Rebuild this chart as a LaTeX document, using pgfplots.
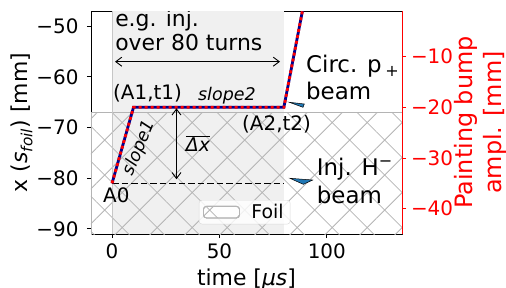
\documentclass[border=0pt]{standalone}
\usepackage{pgfplots}
\pgfplotsset{compat=1.18}
\usepackage{fontspec}
\setmainfont{DejaVu Sans}
\usetikzlibrary{patterns.meta,arrows.meta}
\definecolor{lineblue}{RGB}{0,0,140}
\definecolor{wedgeblue}{RGB}{31,119,180}
\definecolor{hatchgray}{RGB}{180,180,180}
\definecolor{spangray}{RGB}{240,240,240}
\newcommand\fs[2]{\fontsize{#1}{#2}\selectfont}
\tikzset{
  hatchA/.style={pattern={Lines[angle=45,distance=24.75bp,yshift=8.27bp,line width=0.8bp]},pattern color=hatchgray},
  hatchB/.style={pattern={Lines[angle=-45,distance=24.75bp,yshift=7.57bp,line width=0.8bp]},pattern color=hatchgray},
}
\begin{document}
\begin{tikzpicture}
\begin{axis}[name=ax, width=311bp, height=223bp, scale only axis,
  xmin=-9.8, xmax=135, ymin=-91, ymax=-47,
  xtick={0,50,100}, xticklabels={0,50,100},
  ytick={-90,-80,-70,-60,-50}, yticklabels={−90,−80,−70,−60,−50},
  xtick pos=bottom, ytick pos=left, tick align=outside, major tick length=4bp,
  tick style={black, line width=0.9bp},
  axis line style={line width=0.9bp},
  ticklabel style={font=\fs{20}{23}},
  yticklabel style={xshift=-5bp},
  xticklabel style={yshift=-2bp},
  every axis x label/.style={at={(axis description cs:0.5,-0.231)}, anchor=base, font=\fs{22}{26}},
  every axis y label/.style={at={(axis description cs:-0.222,0.5)}, anchor=center, rotate=90, font=\fs{22}{26}},
  xlabel={time [\textit{μs}]},
  ylabel={x (\textit{s}\textsubscript{\textit{foil}}) [mm]},
  legend style={at={(axis description cs:0.494,0.0435)}, anchor=south, draw=black!15, rounded corners=3bp,
    fill=white, fill opacity=0.8, text opacity=1, font=\fs{19}{23}, inner xsep=4bp, inner ysep=1.5bp,
    nodes={inner sep=2.5bp},
    /tikz/every odd column/.append style={column sep=9bp}},
  legend cell align=left,
]
% shaded injection window
\addplot[fill=spangray, draw=none, forget plot] coordinates {(0,-91) (80,-91) (80,-47) (0,-47)} -- cycle;
% foil (hatched)
\addplot[draw=hatchgray, line width=0.8bp, hatchA, area legend,
  legend image code/.code={
    \draw[hatchgray, line width=0.8bp, fill=white] (0bp,-5.8bp) rectangle (36bp,5.8bp);
    \fill[hatchA, fill opacity=1] (0bp,-5.8bp) rectangle (36bp,5.8bp);
    \fill[hatchB, fill opacity=1] (0bp,-5.8bp) rectangle (36bp,5.8bp);
  }] coordinates {(-9.8,-92) (135,-92) (135,-67) (-9.8,-67)} -- cycle;
\addlegendentry{Foil}
\addplot[draw=none, hatchB, forget plot] coordinates {(-9.8,-92) (135,-92) (135,-67) (-9.8,-67)} -- cycle;
% vertical line at t=0
\addplot[gray!45, line width=0.8bp, forget plot] coordinates {(0,-91) (0,-47)};
% injected beam (dashed)
\addplot[black, line width=1.5bp, dash pattern=on 6.5bp off 3bp, forget plot] coordinates {(0,-81) (80,-81)};
% bump amplitude
\addplot[lineblue, line width=2.8bp, forget plot] coordinates {(0,-81) (10,-66) (80,-66) (90,-44)};
\addplot[red, line width=2.8bp, dash pattern=on 3bp off 3bp, forget plot] coordinates {(0,-81) (10,-66) (80,-66) (90,-44)};
% arrows
\addplot[black, line width=0.9bp, {Straight Barb[length=6bp,width=9bp]}-{Straight Barb[length=6bp,width=9bp]}, forget plot] coordinates {(1.4,-57) (78.2,-57)};
\addplot[black, line width=0.9bp, {Straight Barb[length=6bp,width=9bp]}-{Straight Barb[length=6bp,width=9bp]}, forget plot] coordinates {(30,-66.2) (30,-80.2)};
% wedges
\addplot[fill=wedgeblue, draw=black, line width=0.5bp, forget plot] coordinates {(82.53,-65.01) (89.51,-65.35) (88.90,-66.0)} -- cycle;
\addplot[fill=wedgeblue, draw=black, line width=0.5bp, forget plot] coordinates {(82.85,-80.01) (93.42,-80.35) (89.04,-81.20)} -- cycle;
% texts
\node[anchor=base west, inner sep=0pt, font=\fs{22}{26}] at (axis cs:1.4,-49.96) {e.g. inj.};
\node[anchor=base west, inner sep=0pt, font=\fs{22}{26}] at (axis cs:1.4,-54.70) {over 80 turns};
\node[anchor=base west, inner sep=0pt, font=\fs{20}{24}] at (axis cs:0.45,-64.56) {(A1,t1)};
\node[anchor=base west, inner sep=0pt, font=\fs{17.5}{21}\itshape] at (axis cs:40.0,-64.7) {slope2};
\node[anchor=base west, inner sep=0pt, font=\fs{20}{24}] at (axis cs:60.5,-70.58) {(A2,t2)};
\node[anchor=base west, inner sep=0pt, font=\fs{20}{24}] at (axis cs:-4.2,-84.83) {A0};
\node[anchor=center, inner sep=0pt, rotate=68, font=\fs{17.5}{21}\itshape] at (axis cs:12.6,-74.0) {slope1};
\node[anchor=center, inner sep=0pt, font=\fs{19}{23}] at (axis cs:40.0,-73.2) {$\overline{\hbox{\textit{Δx}}}$};
\node[anchor=base west, inner sep=0pt, font=\fs{23}{27}] at (axis cs:90.3,-59.23) {Circ. p\,\textsubscript{+}};
\node[anchor=base west, inner sep=0pt, font=\fs{23}{27}] at (axis cs:90.3,-64.56) {beam};
\node[anchor=base west, inner sep=0pt, font=\fs{23}{27}] at (axis cs:95.28,-79.36) {Inj. H\textsuperscript{−}};
\node[anchor=base west, inner sep=0pt, font=\fs{23}{27}] at (axis cs:95.28,-84.89) {beam};
\end{axis}
\begin{axis}[width=311bp, height=223bp, scale only axis,
  xmin=-9.8, xmax=135, ymin=-45, ymax=-1,
  axis x line=none, axis y line*=right,
  ytick={-40,-30,-20,-10}, yticklabels={−40,−30,−20,−10},
  tick align=outside, major tick length=4bp,
  tick style={red, line width=0.9bp},
  axis line style={red, line width=0.9bp},
  ticklabel style={font=\fs{20}{23}, text=red},
  yticklabel style={xshift=1.5bp},
  every axis y label/.style={at={(axis description cs:1.252,0.5)}, anchor=center, rotate=90, align=center, font=\fs{24}{29}, text=red},
  ylabel={Painting bump\\ampl. [mm]},
]
\end{axis}
\pgfresetboundingbox
\path[use as bounding box] ([shift={(-91bp,-54bp)}]ax.south west) rectangle ([shift={(104bp,11bp)}]ax.north east);
\end{tikzpicture}
\end{document}
